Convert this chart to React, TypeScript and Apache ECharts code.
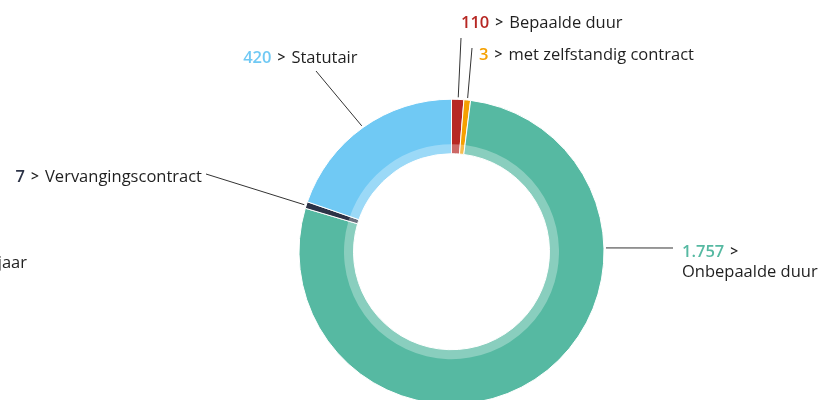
import React, { useEffect, useRef } from "react";
import * as echarts from "echarts";

// ---- data ----
const categories = [
  "Bepaalde duur",
  "met zelfstandig contract",
  "Onbepaalde duur",
  "Vervangingscontract",
  "Statutair",
];
const counts = [110, 3, 1757, 7, 420];
const countLabels = ["110", "3", "1.757", "7", "420"];
// share of the circle each slice takes in the drawing (percent)
const arcShares = [1.3, 0.7, 77.6, 0.7, 19.7];
const colors = ["#B72824", "#F5A000", "#56B9A2", "#2C3347", "#70C9F4"];
const cutLabel = "jaar";

// ---- layout ----
const CX = 451.5;
const CY = 251.7;
const R_IN = 98;
const R_OUT = 152.5;
const R_BAND = 107.5;
const FONT = "'Open Sans', 'Noto Sans', sans-serif";
const TEXT = "#1f1f1f";
const FS = 16.5;

type Spot = {
  x: number;
  y: number;
  align: "left" | "right";
  end: [number, number];
  anchor: number;
};
const labelSpots: Spot[] = [
  { x: 461, y: 21, align: "left", end: [461, 38], anchor: 2.5 },
  { x: 479, y: 53, align: "left", end: [472, 48], anchor: 6 },
  { x: 682, y: 260, align: "left", end: [673, 248], anchor: 88.6 },
  { x: 202, y: 175, align: "right", end: [206, 174], anchor: 287.7 },
  { x: 357.5, y: 56.5, align: "right", end: [316, 71], anchor: 324.5 },
];

function onCircle(angleDeg: number, r: number): [number, number] {
  const a = (angleDeg * Math.PI) / 180;
  return [CX + r * Math.sin(a), CY - r * Math.cos(a)];
}

export default function App() {
  const ref = useRef<HTMLDivElement>(null);
  useEffect(() => {
    const chart = echarts.init(ref.current!, null, { renderer: "svg" });
    const rich: Record<string, any> = {
      s: { color: TEXT, fontFamily: FONT, fontSize: 14, fontWeight: 600, padding: [0, 6], lineHeight: 20 },
      n: { color: TEXT, fontFamily: FONT, fontSize: FS, lineHeight: 20 },
    };
    colors.forEach((c, i) => {
      rich["v" + i] = { color: c, fontFamily: FONT, fontSize: FS, fontWeight: 600, lineHeight: 20 };
    });
    const data = categories.map((name, i) => ({
      name,
      value: arcShares[i],
      count: counts[i],
      itemStyle: { color: colors[i] },
    }));
    chart.setOption({
      animation: false,
      series: [
        {
          type: "pie",
          center: [CX, CY],
          radius: [R_IN, R_OUT],
          startAngle: 90,
          clockwise: true,
          avoidLabelOverlap: false,
          itemStyle: { borderColor: "#ffffff", borderWidth: 1 },
          label: {
            show: true,
            position: "outside",
            fontFamily: FONT,
            fontSize: FS,
            color: TEXT,
            rich,
            formatter: (p: any) => {
              const i = p.dataIndex;
              const sep = i === 2 ? "\n" : "";
              return `{v${i}|${countLabels[i]}}{s|>}${sep}{n|${categories[i]}}`;
            },
          },
          labelLine: { show: true, length: 10, length2: 10, lineStyle: { color: "#333", width: 1 } },
          labelLayout: (params: any) => {
            const s = labelSpots[params.dataIndex];
            const start = onCircle(s.anchor, R_OUT + 2);
            return {
              x: s.x,
              y: s.y,
              align: s.align,
              verticalAlign: "middle",
              labelLinePoints: [start, s.end, s.end],
            };
          },
          emphasis: { disabled: true },
          data,
        },
        {
          type: "pie",
          center: [CX, CY],
          radius: [R_IN, R_BAND],
          startAngle: 90,
          clockwise: true,
          silent: true,
          z: 3,
          label: { show: false },
          labelLine: { show: false },
          itemStyle: { color: "rgba(255,255,255,0.3)", borderWidth: 0 },
          emphasis: { disabled: true },
          data: categories.map((name, i) => ({ name, value: arcShares[i] })),
        },
      ],
      graphic: [
        {
          type: "text",
          x: 27,
          y: 270,
          style: {
            text: cutLabel,
            fill: TEXT,
            font: `${FS}px ${FONT}`,
            textAlign: "right",
            textVerticalAlign: "bottom",
          },
        },
      ],
    });
    return () => chart.dispose();
  }, []);
  return (
    <div
      ref={ref}
      style={{ position: "fixed", left: 0, top: 0, width: 833, height: 400 }}
    />
  );
}
